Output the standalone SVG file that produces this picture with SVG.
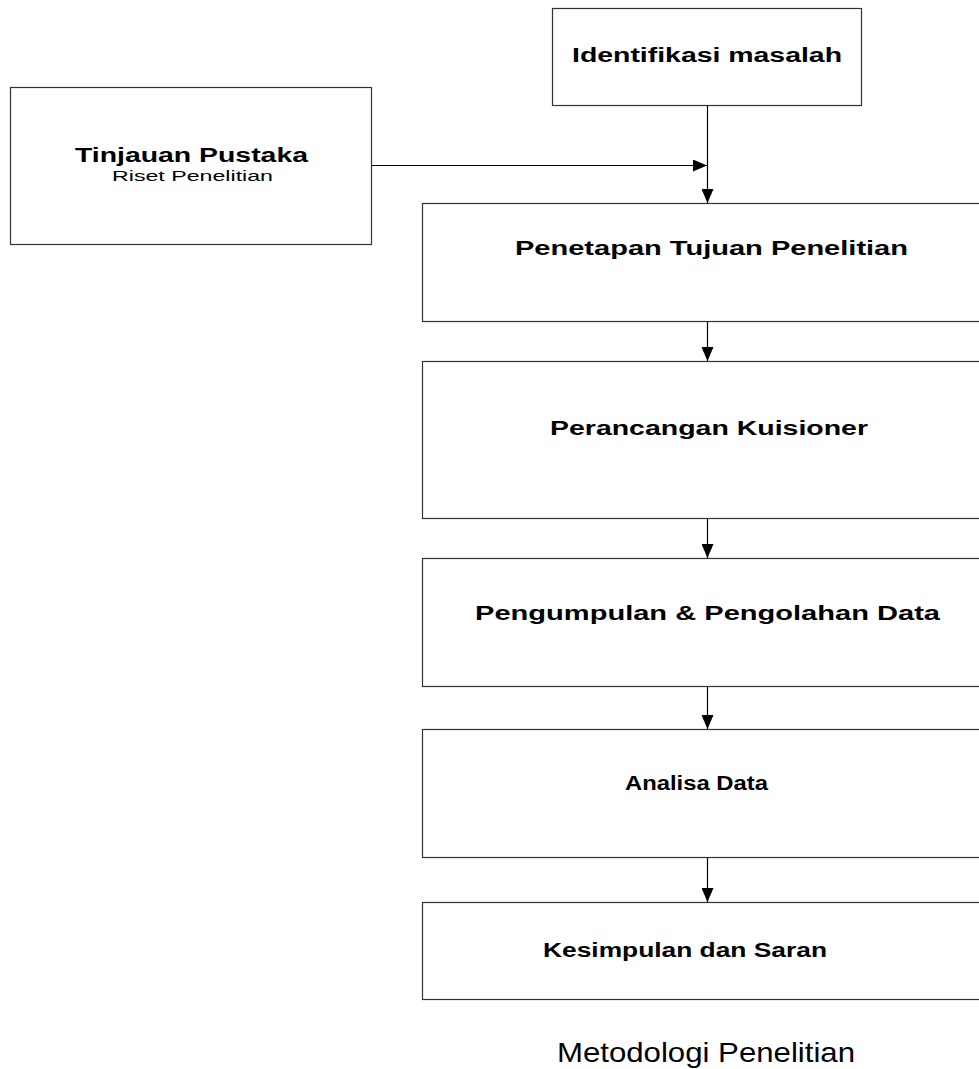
<svg xmlns="http://www.w3.org/2000/svg" width="979" height="1069" viewBox="0 0 979 1069">
<style>
.box{fill:#fff;stroke:#333;stroke-width:1.2}
.t{font-family:"Liberation Sans",Arial,sans-serif;font-weight:bold;font-size:20px;fill:#000}
.s{font-family:"Liberation Sans",Arial,sans-serif;font-size:15.5px;fill:#000}
.ttl{font-family:"Liberation Sans",Arial,sans-serif;font-size:28px;fill:#000}
.c{stroke:#000;stroke-width:1.2;fill:none}
</style>
<defs>
<marker id="ah" markerWidth="14" markerHeight="12" refX="14" refY="6" orient="auto" markerUnits="userSpaceOnUse">
<path d="M0,0 L14,6 L0,12 Z" fill="#000"/>
</marker>
</defs>
<rect width="979" height="1069" fill="#fff"/>
<g id="identifikasi">
<rect class="box" x="552.5" y="8.5" width="309" height="97"/>
<text class="t" x="572" y="62" textLength="270" lengthAdjust="spacingAndGlyphs">Identifikasi masalah</text>
</g>
<g id="tinjauan">
<rect class="box" x="10.5" y="87.5" width="361" height="157"/>
<text class="t" x="75" y="162" textLength="233" lengthAdjust="spacingAndGlyphs">Tinjauan Pustaka</text>
<text class="s" x="112" y="181" textLength="161" lengthAdjust="spacingAndGlyphs">Riset Penelitian</text>
</g>
<g id="penetapan">
<rect class="box" x="422.5" y="203.5" width="570" height="118"/>
<text class="t" x="515" y="255" textLength="393" lengthAdjust="spacingAndGlyphs">Penetapan Tujuan Penelitian</text>
</g>
<g id="perancangan">
<rect class="box" x="422.5" y="361.5" width="570" height="157"/>
<text class="t" x="550" y="435" textLength="318" lengthAdjust="spacingAndGlyphs">Perancangan Kuisioner</text>
</g>
<g id="pengumpulan">
<rect class="box" x="422.5" y="558.5" width="570" height="128"/>
<text class="t" x="475" y="620" textLength="465" lengthAdjust="spacingAndGlyphs">Pengumpulan &amp; Pengolahan Data</text>
</g>
<g id="analisa">
<rect class="box" x="422.5" y="729.5" width="570" height="128"/>
<text class="t" x="625" y="790" textLength="143" lengthAdjust="spacingAndGlyphs">Analisa Data</text>
</g>
<g id="kesimpulan">
<rect class="box" x="422.5" y="902.5" width="570" height="97"/>
<text class="t" x="543" y="957" textLength="284" lengthAdjust="spacingAndGlyphs">Kesimpulan dan Saran</text>
</g>
<g id="connectors">
<line class="c" x1="707.5" y1="105" x2="707.5" y2="203" marker-end="url(#ah)"/>
<line class="c" x1="372" y1="165.5" x2="707" y2="165.5" marker-end="url(#ah)"/>
<line class="c" x1="707.5" y1="322" x2="707.5" y2="361" marker-end="url(#ah)"/>
<line class="c" x1="707.5" y1="519" x2="707.5" y2="558" marker-end="url(#ah)"/>
<line class="c" x1="707.5" y1="687" x2="707.5" y2="729" marker-end="url(#ah)"/>
<line class="c" x1="707.5" y1="858" x2="707.5" y2="902" marker-end="url(#ah)"/>
</g>
<text class="ttl" x="557" y="1062" textLength="298" lengthAdjust="spacingAndGlyphs">Metodologi Penelitian</text>
</svg>
